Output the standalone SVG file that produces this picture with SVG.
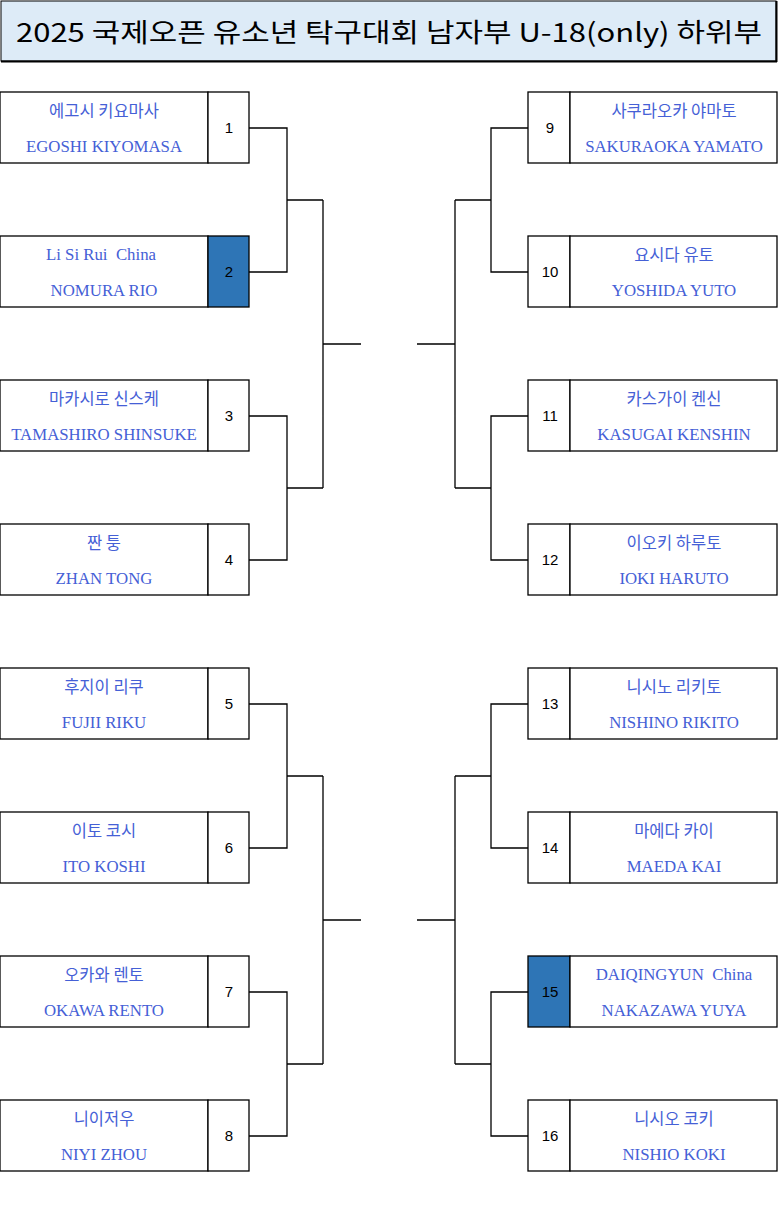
<svg xmlns="http://www.w3.org/2000/svg" width="778" height="1205" viewBox="0 0 778 1205">
<style>
.bx{fill:#fff;stroke:#000;stroke-width:1.3}
.hl{fill:#2E75B6;stroke:#000;stroke-width:1.3}
.ko{font-family:"Noto Sans CJK KR","Noto Sans",sans-serif;font-size:16.5px;fill:#4560D6;text-anchor:middle}
.en{font-family:"Liberation Serif","DejaVu Serif",serif;font-size:16.8px;fill:#4560D6;text-anchor:middle;white-space:pre}
.nm{font-family:"Liberation Sans",Arial,sans-serif;font-size:15px;fill:#000;text-anchor:middle}
.cn{fill:none;stroke:#000;stroke-width:1.3}
</style>
<rect width="778" height="1205" fill="#fff"/>
<g id="title">
<rect x="1" y="1" width="775" height="60" fill="#DDEBF7" stroke="#000" stroke-width="1"/>
<path d="M1 61.5H777M776.5 1V62" stroke="#000" stroke-width="2" fill="none"/>
<text x="389" y="42" font-family="'Noto Sans CJK KR','Noto Sans',sans-serif" font-size="26" text-anchor="middle" textLength="746" lengthAdjust="spacingAndGlyphs">2025 국제오픈 유소년 탁구대회 남자부 U-18(only) 하위부</text>
</g>
<g id="p1"><rect class="bx" x="0" y="92" width="208" height="71"/><rect class="bx" x="208" y="92" width="41" height="71"/><text class="ko" x="104" y="117">에고시 키요마사</text><text class="en" x="104" y="152">EGOSHI KIYOMASA</text><text class="nm" x="229" y="133">1</text></g>
<g id="p2"><rect class="bx" x="0" y="236" width="208" height="71"/><rect class="hl" x="208" y="236" width="41" height="71"/><text class="en" x="101" y="260" xml:space="preserve">Li Si Rui  China</text><text class="en" x="104" y="296">NOMURA RIO</text><text class="nm" x="229" y="277">2</text></g>
<g id="p3"><rect class="bx" x="0" y="380" width="208" height="71"/><rect class="bx" x="208" y="380" width="41" height="71"/><text class="ko" x="104" y="405">마카시로 신스케</text><text class="en" x="104" y="440">TAMASHIRO SHINSUKE</text><text class="nm" x="229" y="421">3</text></g>
<g id="p4"><rect class="bx" x="0" y="524" width="208" height="71"/><rect class="bx" x="208" y="524" width="41" height="71"/><text class="ko" x="104" y="549">짠 퉁</text><text class="en" x="104" y="584">ZHAN TONG</text><text class="nm" x="229" y="565">4</text></g>
<g id="p5"><rect class="bx" x="0" y="668" width="208" height="71"/><rect class="bx" x="208" y="668" width="41" height="71"/><text class="ko" x="104" y="693">후지이 리쿠</text><text class="en" x="104" y="728">FUJII RIKU</text><text class="nm" x="229" y="709">5</text></g>
<g id="p6"><rect class="bx" x="0" y="812" width="208" height="71"/><rect class="bx" x="208" y="812" width="41" height="71"/><text class="ko" x="104" y="837">이토 코시</text><text class="en" x="104" y="872">ITO KOSHI</text><text class="nm" x="229" y="853">6</text></g>
<g id="p7"><rect class="bx" x="0" y="956" width="208" height="71"/><rect class="bx" x="208" y="956" width="41" height="71"/><text class="ko" x="104" y="981">오카와 렌토</text><text class="en" x="104" y="1016">OKAWA RENTO</text><text class="nm" x="229" y="997">7</text></g>
<g id="p8"><rect class="bx" x="0" y="1100" width="208" height="71"/><rect class="bx" x="208" y="1100" width="41" height="71"/><text class="ko" x="104" y="1125">니이저우</text><text class="en" x="104" y="1160">NIYI ZHOU</text><text class="nm" x="229" y="1141">8</text></g>
<g id="p9"><rect class="bx" x="528" y="92" width="42" height="71"/><rect class="bx" x="570" y="92" width="207" height="71"/><text class="ko" x="674" y="117">사쿠라오카 야마토</text><text class="en" x="674" y="152">SAKURAOKA YAMATO</text><text class="nm" x="550" y="133">9</text></g>
<g id="p10"><rect class="bx" x="528" y="236" width="42" height="71"/><rect class="bx" x="570" y="236" width="207" height="71"/><text class="ko" x="674" y="261">요시다 유토</text><text class="en" x="674" y="296">YOSHIDA YUTO</text><text class="nm" x="550" y="277">10</text></g>
<g id="p11"><rect class="bx" x="528" y="380" width="42" height="71"/><rect class="bx" x="570" y="380" width="207" height="71"/><text class="ko" x="674" y="405">카스가이 켄신</text><text class="en" x="674" y="440">KASUGAI KENSHIN</text><text class="nm" x="550" y="421">11</text></g>
<g id="p12"><rect class="bx" x="528" y="524" width="42" height="71"/><rect class="bx" x="570" y="524" width="207" height="71"/><text class="ko" x="674" y="549">이오키 하루토</text><text class="en" x="674" y="584">IOKI HARUTO</text><text class="nm" x="550" y="565">12</text></g>
<g id="p13"><rect class="bx" x="528" y="668" width="42" height="71"/><rect class="bx" x="570" y="668" width="207" height="71"/><text class="ko" x="674" y="693">니시노 리키토</text><text class="en" x="674" y="728">NISHINO RIKITO</text><text class="nm" x="550" y="709">13</text></g>
<g id="p14"><rect class="bx" x="528" y="812" width="42" height="71"/><rect class="bx" x="570" y="812" width="207" height="71"/><text class="ko" x="674" y="837">마에다 카이</text><text class="en" x="674" y="872">MAEDA KAI</text><text class="nm" x="550" y="853">14</text></g>
<g id="p15"><rect class="hl" x="528" y="956" width="42" height="71"/><rect class="bx" x="570" y="956" width="207" height="71"/><text class="en" x="674" y="980" xml:space="preserve">DAIQINGYUN  China</text><text class="en" x="674" y="1016">NAKAZAWA YUYA</text><text class="nm" x="550" y="997">15</text></g>
<g id="p16"><rect class="bx" x="528" y="1100" width="42" height="71"/><rect class="bx" x="570" y="1100" width="207" height="71"/><text class="ko" x="674" y="1125">니시오 코키</text><text class="en" x="674" y="1160">NISHIO KOKI</text><text class="nm" x="550" y="1141">16</text></g>
<g id="connectors">
<path class="cn" d="M249 128H287V272H249M287 200H323M249 416H287V560H249M287 488H323M323 200V488M323 344H361"/>
<path class="cn" d="M249 704H287V848H249M287 776H323M249 992H287V1136H249M287 1064H323M323 776V1064M323 920H361"/>
<path class="cn" d="M528 128H491V272H528M491 200H455M528 416H491V560H528M491 488H455M455 200V488M455 344H417"/>
<path class="cn" d="M528 704H491V848H528M491 776H455M528 992H491V1136H528M491 1064H455M455 776V1064M455 920H417"/>
</g>
</svg>
